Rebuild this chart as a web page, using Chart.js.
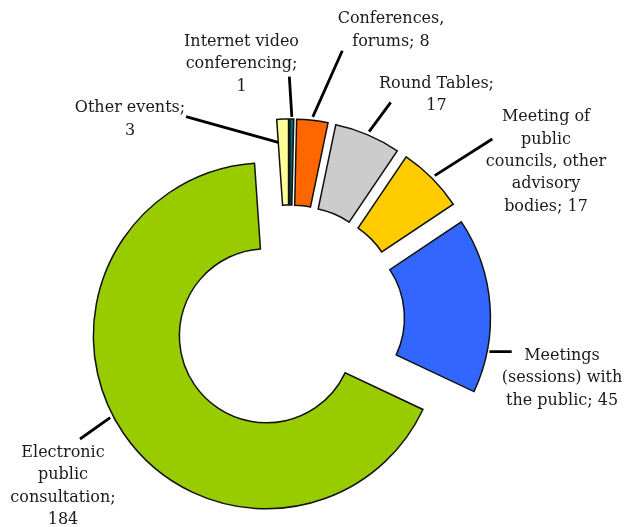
<!DOCTYPE html>
<html><head><meta charset="utf-8">
<script src="https://cdn.jsdelivr.net/npm/chart.js@4"></script>
<style>html,body{margin:0;padding:0;background:#fff}canvas{display:block}</style>
</head><body>
<canvas id="c" width="625" height="527"></canvas>
<script>
const categories = ['Internet video conferencing', 'Conferences, forums', 'Round Tables', 'Meeting of public councils, other advisory bodies', 'Meetings (sessions) with the public', 'Electronic public consultation', 'Other events'];
const values = [1, 8, 17, 17, 45, 184, 3];
const sliceColors = ['#0A6B6B', '#FF6600', '#CCCCCC', '#FFCC00', '#3366FF', '#99CC00', '#FFFF99'];

// layout (not data)
const FONT = '16px "DejaVu Serif"';
const LINE_H = 22.4;
const EXPLODE = 28;
const labelLayout = [
  {words:[2,1,1], x:241.5, y:46, t:0.5, r:1.012, end:[289.3,76.7]},
  {words:[1,2], x:391, y:23.3, t:0.5, r:1.02, end:[342.3,50.7]},
  {words:[2,1], x:436.5, y:87.7, t:0.5, r:1.02, end:[390.7,102.3]},
  {words:[2,1,2,1,2], x:546, y:121.2, t:0.5, r:1.022, end:[492.3,139]},
  {words:[1,2,3], x:562, y:360, t:0.76, r:1.013, end:[511.7,351.7]},
  {words:[1,1,1,1], x:63, y:456.7, t:0.528, r:1.019, end:[80,439]},
  {words:[2,1], x:130, y:112.3, t:0, r:0.867, end:[186,116.7]}
];

function wrapLabel(i){
  const tokens = (categories[i] + '; ' + values[i]).split(' ');
  const out = []; let k = 0;
  labelLayout[i].words.forEach(n => { out.push(tokens.slice(k, k+n).join(' ')); k += n; });
  return out;
}

const explodePlugin = {
  id: 'explode',
  beforeDatasetsDraw(chart){
    const meta = chart.getDatasetMeta(0);
    const ca = chart.chartArea;
    const cx = (ca.left + ca.right) / 2, cy = (ca.top + ca.bottom) / 2;
    meta.data.forEach(arc => {
      const mid = (arc.startAngle + arc.endAngle) / 2;
      arc.x = cx + EXPLODE * Math.cos(mid);
      arc.y = cy + EXPLODE * Math.sin(mid);
    });
  }
};

const labelPlugin = {
  id: 'outerLabels',
  afterDatasetsDraw(chart){
    const ctx = chart.ctx;
    const meta = chart.getDatasetMeta(0);
    ctx.save();
    meta.data.forEach((arc, i) => {
      const L = labelLayout[i];
      const a = arc.startAngle + L.t * (arc.endAngle - arc.startAngle);
      const rr = arc.outerRadius * L.r;
      const px = arc.x + rr * Math.cos(a), py = arc.y + rr * Math.sin(a);
      ctx.beginPath();
      ctx.moveTo(px, py);
      ctx.lineTo(L.end[0], L.end[1]);
      ctx.lineWidth = 2.8;
      ctx.strokeStyle = '#000';
      ctx.lineCap = 'butt';
      ctx.stroke();
      ctx.font = FONT;
      ctx.fillStyle = '#1a1a1a';
      ctx.textAlign = 'center';
      ctx.textBaseline = 'alphabetic';
      wrapLabel(i).forEach((line, k) => ctx.fillText(line, L.x, L.y + k * LINE_H));
    });
    ctx.restore();
  }
};

new Chart(document.getElementById('c'), {
  type: 'doughnut',
  data: {
    labels: categories,
    datasets: [{
      data: values,
      backgroundColor: sliceColors,
      borderColor: '#111',
      borderWidth: 1.5,
      borderJoinStyle: 'miter'
    }]
  },
  options: {
    responsive: false,
    animation: false,
    rotation: 0,
    radius: 173,
    cutout: '50.3%',
    layout: {padding: {left: 0, right: 46, top: 113, bottom: 0}},
    plugins: {legend: {display: false}, tooltip: {enabled: false}, title: {display: false}},
    events: []
  },
  plugins: [explodePlugin, labelPlugin]
});
</script>
</body></html>
